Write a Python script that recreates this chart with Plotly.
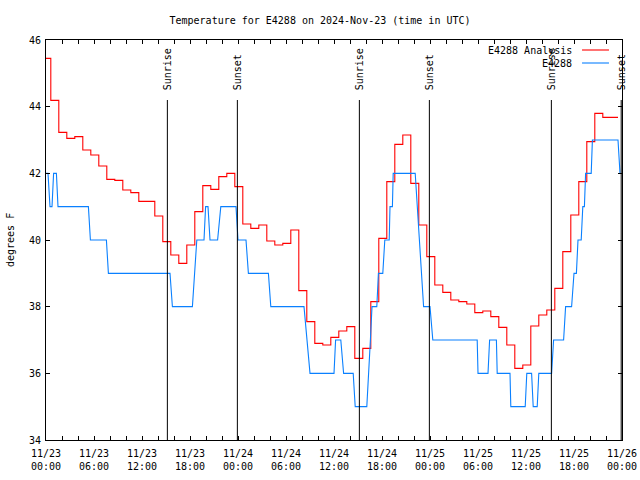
import pandas as pd
import plotly.graph_objects as go

BASE = pd.Timestamp("2024-11-23 00:00")

# Hourly analysis values (each value starts ~0.4 h before the hour)
ANALYSIS_TEMPS = [
    45.45, 44.19, 43.23, 43.05, 43.10, 42.70, 42.55, 42.22, 41.82, 41.79,
    41.50, 41.42, 41.16, 41.16, 40.72, 39.95, 39.55, 39.30, 39.85, 40.85,
    41.63, 41.52, 41.90, 42.00, 41.60, 40.48, 40.35, 40.45, 39.97, 39.85,
    39.90, 40.30, 38.48, 37.55, 36.90, 36.85, 37.08, 37.27, 37.40, 36.45,
    36.75, 38.15, 40.05, 41.75, 42.87, 43.15, 41.70, 40.45, 39.50, 38.65,
    38.43, 38.20, 38.15, 38.08, 37.82, 37.87, 37.70, 37.38, 36.85, 36.15,
    36.25, 37.42, 37.75, 37.90, 38.55, 39.65, 40.75, 41.75, 42.95, 43.80,
    43.68, 43.68,
]
ANALYSIS_STEP_OFFSET = -0.4
ANALYSIS_END_HOUR = 71.5

# Observations (hours since start, degrees F)
OBS_HOURS = [
    0.0, 0.25, 0.5, 0.75, 0.95, 1.3, 1.5,
    5.3, 5.55, 7.55, 7.8, 15.5, 15.8,
    18.3, 18.85, 19.75, 19.95, 20.25, 20.5, 21.45, 21.85,
    23.75, 24.0, 25.0, 25.3, 27.8, 28.1, 32.25, 33.0,
    36.0, 36.2, 36.85, 37.2, 38.4, 38.65, 40.1, 40.55, 40.75,
    41.35, 41.55, 42.1, 42.35, 42.9, 43.0, 43.3, 43.4,
    46.15, 47.2, 48.0, 48.35,
    53.9, 54.0, 55.25, 55.45, 56.3, 56.4, 58.0, 58.1, 59.9, 60.1,
    60.7, 60.9, 61.4, 61.6, 63.2, 63.45, 64.7, 64.95, 65.7, 66.0,
    66.3, 66.5, 66.9, 67.1, 67.3, 67.45, 68.15, 68.3, 71.5, 71.75,
]
OBS_TEMPS = [
    42, 42, 41, 41, 42, 42, 41,
    41, 40, 40, 39, 39, 38,
    38, 40, 40, 41, 41, 40, 40, 41,
    41, 40, 40, 39, 39, 38, 38, 36,
    36, 37, 37, 36, 36, 35, 35, 37, 38,
    38, 39, 39, 40, 40, 41, 41, 42,
    42, 38, 38, 37,
    37, 36, 36, 37, 37, 36, 36, 35, 35, 36,
    36, 35, 35, 36, 36, 37, 37, 38, 38, 39,
    39, 40, 40, 41, 41, 42, 42, 43, 43, 42,
]

SUN_EVENTS = ["Sunrise", "Sunset", "Sunrise", "Sunset", "Sunrise", "Sunset"]
SUN_HOURS = [15.17, 23.92, 39.17, 47.92, 63.17, 71.9]

RED = "#ff0000"
BLUE = "#0a80ff"
FONT = "DejaVu Sans Mono"

W, H = 640, 480


def t(h):
    return BASE + pd.Timedelta(hours=h)


an_x = [t(0)] + [t(k + ANALYSIS_STEP_OFFSET) for k in range(1, len(ANALYSIS_TEMPS))] + [t(ANALYSIS_END_HOUR)]
an_y = ANALYSIS_TEMPS + [ANALYSIS_TEMPS[-1]]

fig = go.Figure()
fig.add_trace(go.Scatter(x=an_x, y=an_y, mode="lines", line=dict(color=RED, width=1.1, shape="hv"),
                         name="E4288 Analysis", showlegend=False))
fig.add_trace(go.Scatter(x=[t(h) for h in OBS_HOURS], y=OBS_TEMPS, mode="lines",
                         line=dict(color=BLUE, width=1.1), name="E4288", showlegend=False))

shapes = []
annotations = []
for name, h in zip(SUN_EVENTS, SUN_HOURS):
    shapes.append(dict(type="line", xref="x", yref="paper", x0=t(h), x1=t(h), y0=0, y1=0.85,
                       line=dict(color="black", width=1)))
    annotations.append(dict(x=t(h), y=0.87, xref="x", yref="paper", text=name, textangle=-90,
                            showarrow=False, xanchor="center", yanchor="bottom",
                            font=dict(family=FONT, size=10, color="black")))

# legend drawn gnuplot-style (text left of the sample)
legend_items = [("E4288 Analysis", RED, 0.975), ("E4288", BLUE, 0.9425)]
for label, col, yy in legend_items:
    annotations.append(dict(x=0.9167, y=yy, xref="paper", yref="paper", text=label, showarrow=False,
                            xanchor="right", yanchor="middle", font=dict(family=FONT, size=10, color="black")))
    shapes.append(dict(type="line", xref="paper", yref="paper", x0=0.9306, x1=0.9774, y0=yy, y1=yy,
                       line=dict(color=col, width=1.1)))

annotations.append(dict(x=-0.0625, y=0.5, xref="paper", yref="paper", text="degrees F", textangle=-90,
                        showarrow=False, xanchor="center", yanchor="middle",
                        font=dict(family=FONT, size=10, color="black")))

fig.update_layout(
    width=W, height=H,
    margin=dict(l=46, r=W - 622, t=40, b=H - 440, autoexpand=False),
    paper_bgcolor="white", plot_bgcolor="white",
    title=dict(text="Temperature for E4288 on 2024-Nov-23 (time in UTC)",
               x=320 / W, xref="container", y=1 - 20 / H, yanchor="middle", xanchor="center",
               font=dict(family=FONT, size=10, color="black")),
    font=dict(family=FONT, size=10, color="black"),
    shapes=shapes, annotations=annotations, showlegend=False,
)
fig.update_xaxes(
    type="date", range=[t(0), t(72)], tick0=t(0), dtick=6 * 3600 * 1000,
    tickformat="%m/%d<br>%H:%M", ticks="inside", ticklen=4, tickcolor="black",
    minor=dict(dtick=2 * 3600 * 1000, ticks="inside", ticklen=4, tickcolor="black", showgrid=False),
    showline=True, linecolor="black", linewidth=1, mirror="ticks", showgrid=False, zeroline=False,
    tickfont=dict(family=FONT, size=10, color="black"), ticklabelstandoff=4,
)
fig.update_yaxes(
    range=[34, 46], dtick=2, tick0=34, ticks="inside", ticklen=4, tickcolor="black",
    showline=True, linecolor="black", linewidth=1, mirror="ticks", showgrid=False, zeroline=False,
    tickfont=dict(family=FONT, size=10, color="black"), ticklabelstandoff=2,
)

fig.write_html(
    "out.html",
    config={"displayModeBar": False},
    post_script="document.body.style.margin='0';document.body.style.overflow='hidden';",
)
